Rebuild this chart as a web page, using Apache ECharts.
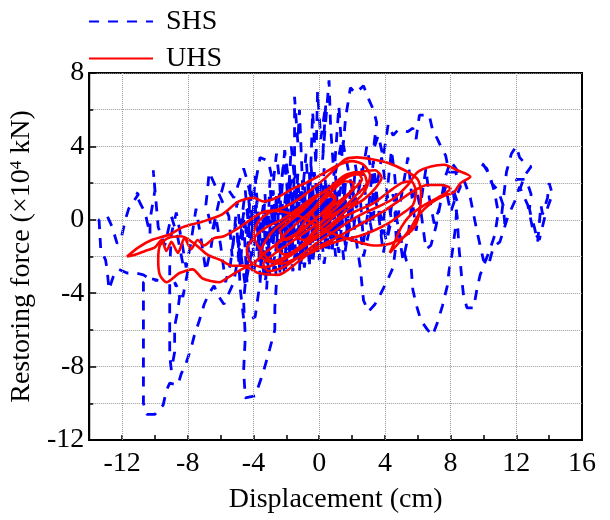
<!DOCTYPE html>
<html>
<head>
<meta charset="utf-8">
<script src="https://cdn.jsdelivr.net/npm/echarts@6/dist/echarts.min.js"></script>
<style>
  html, body { margin: 0; padding: 0; background: #fff; }
  #chart { width: 610px; height: 520px; }
</style>
</head>
<body>
<div id="chart"></div>
<script>
// Hysteresis: displacement (cm) vs restoring force (x10^4 kN)
const xTickLabels = [-12, -8, -4, 0, 4, 8, 12, 16];
const xGridValues = [-12, -8, -4, 0, 4, 8, 12];

// SHS response, in time order: [displacement, force]
const shsStart = [
  [0.0,0.4],[0.2,1.6],[0.1,-0.4],[0.4,1.0],[0.3,-1.0],[0.6,1.8],[0.5,-0.2],[0.8,1.2],[0.7,-1.1],[1.0,0.6],
  [0.9,2.2],[0.6,-0.3],[0.4,1.5],[0.1,-1.3],[-0.1,0.8],[-0.3,-1.7],[-0.5,1.0],[-0.7,-0.5],[-0.9,1.9],[-1.0,-1.1],
  [-1.2,0.6],[-1.3,2.5],[-1.5,-0.4],[-1.7,1.4],[-1.6,-1.9],[-1.9,0.3],[-2.1,-1.5],[-2.0,1.7],[-2.3,-0.7],[-2.4,1.2]
];
const shsUpperSweep = [
  [-2.1,3.7],[-1.9,0.9],[-1.7,4.0],[-1.5,2.2],[-1.5,6.7],[-1.3,4.2],[-1.2,6.0],[-1.0,1.6],[-0.8,3.6],[-0.6,0.4],
  [-0.4,5.9],[-0.2,3.0],[-0.1,7.0],[0.1,4.4],[0.4,6.3],[0.2,3.2],[0.6,7.6],[0.7,5.0],[0.9,2.4],[1.2,6.2],
  [1.4,3.4],[1.6,5.5],[1.9,7.2],[2.2,6.9],[2.7,7.3],[3.0,6.6],[3.3,6.0],[3.5,5.3],[3.3,3.8],[3.6,4.6],
  [3.9,3.4],[4.2,5.2],[4.5,4.6],[4.8,4.9],[5.4,4.8],[5.7,5.0],[5.9,4.4],[6.1,5.7],[6.7,5.7],[6.9,4.9],
  [7.2,4.4],[7.4,4.0],[7.7,3.5],[7.9,2.6],[8.3,2.6],[8.6,1.8],[8.3,1.2],[8.0,0.4],[7.7,1.8],[7.3,0.6],
  [7.0,-0.2],[6.7,1.2],[6.5,2.8],[6.2,1.0],[5.9,-0.6],[5.6,1.6],[5.4,3.4],[5.1,1.8],[4.8,0.2],[4.6,2.4],
  [4.4,3.8],[4.1,1.2],[3.8,-0.8],[3.5,1.4],[3.3,3.2],[3.0,0.6],[2.7,-1.2],[2.5,1.2],[2.2,3.0],[2.0,0.2],
  [1.7,-1.0],[1.5,1.8],[1.2,-0.6],[1.0,2.4],[0.8,-1.4]
];
const shsLeftSweep = [
  [0.5,0.8],[0.3,2.8],[0.1,-0.6],[-0.1,-2.0],[-0.3,0.6],[-0.5,3.0],[-0.7,-0.8],[-0.9,1.6],[-1.1,-2.4],[-1.3,0.2],
  [-1.5,2.8],[-1.7,-1.4],[-1.9,0.8],[-2.1,-2.6],[-2.3,-0.2],[-2.4,2.0],[-2.6,-1.8],[-2.9,0.6],[-3.1,-1.6],[-3.3,1.4],
  [-3.5,-2.2],[-3.7,0.2],[-3.9,2.4],[-4.1,-0.8],[-4.3,1.2],[-4.4,-2.6],[-4.6,-4.4],[-4.5,-6.4],[-4.6,-8.2],[-4.5,-9.7],
  [-3.9,-9.6],[-3.4,-8.3],[-3.0,-7.0],[-2.7,-6.0],[-2.7,-4.8],[-2.6,-3.4],[-2.7,-2.0],[-3.0,-3.0],[-3.3,-0.6],[-3.6,-2.0],
  [-3.9,0.8],[-4.2,-1.4],[-4.5,1.6],[-4.8,-0.6],[-5.0,1.0],[-5.3,-2.0],[-5.5,0.2],[-6.0,1.2],[-6.4,2.0],[-6.7,2.6],
  [-6.8,1.6],[-6.9,0.8],[-6.5,-0.6],[-6.1,1.0],[-5.8,2.0],[-5.2,1.2],[-4.6,2.8],[-4.4,2.2],[-4.1,1.0],[-3.8,2.4],
  [-3.6,3.4],[-3.1,3.2],[-2.8,2.0],[-2.6,3.6],[-2.3,1.2],[-2.1,3.8],[-1.9,2.4]
];
const shsWideSweep = [
  [-2.0,0.4],[-1.7,2.2],[-1.4,-0.8],[-1.1,1.8],[-0.8,-1.6],[-0.5,1.0],[-0.2,-0.4],[0.1,2.0],[0.4,-1.0],[0.7,1.2],
  [1.0,-2.0],[1.3,0.4],[1.6,-1.4],[1.9,1.6],[2.2,-0.8],[2.5,-2.6],[2.7,-4.4],[3.0,-5.0],[3.4,-4.6],[3.7,-4.1],
  [4.1,-3.4],[4.5,-2.6],[4.7,-1.2],[4.6,0.6],[4.9,-0.8],[5.3,-2.2],[5.6,-2.6],[5.7,-3.8],[5.9,-4.6],[6.2,-5.5],
  [6.6,-6.0],[6.9,-6.3],[7.2,-5.6],[7.5,-4.7],[7.8,-3.6],[7.9,-2.8],[8.1,-1.8],[8.3,-0.4],[8.4,1.0],[8.1,1.8],
  [8.4,0.2],[8.5,-1.4],[8.6,-2.4],[8.7,-3.4],[8.8,-4.2],[9.0,-4.8],[9.4,-4.8],[9.6,-3.8],[9.8,-3.0],[10.1,-2.3],
  [10.4,-1.6],[10.7,-0.8],[10.9,0.4],[10.7,1.4],[10.4,2.4],[10.0,3.0],[9.7,3.2],[10.2,2.8],[10.5,2.0],[10.9,1.6],
  [11.2,0.8],[11.3,-0.2],[11.1,0.2],[11.4,2.6],[11.7,3.6],[12.0,4.0],[12.2,3.4],[12.6,3.0],[12.9,2.9],[12.5,2.4],
  [12.2,1.6],[12.0,2.2],[12.6,2.2],[12.9,1.4],[12.8,0.6],[12.9,0.2],[13.1,-0.4],[13.3,-1.2],[13.4,-0.2],[13.5,0.8],
  [13.6,0.3],[13.9,1.2],[14.0,2.0],[14.2,1.4],[13.8,0.4],[13.4,-1.1],[13.0,-0.5],[12.7,0.8],[12.2,1.8],[11.9,1.0],
  [11.5,0.2],[11.0,-1.2],[10.6,-1.5],[10.3,-2.5],[10.0,-2.2],[9.6,-0.6],[9.2,1.2],[8.8,2.2],[8.4,2.7],[8.0,3.2],
  [7.7,2.4],[7.4,1.0],[7.1,-0.4],[6.8,-1.4],[6.5,-1.6],[6.2,0.4],[5.9,1.8],[5.6,0.6],[5.4,-1.0],[5.1,-2.2],
  [4.8,-0.4],[4.5,1.4],[4.2,-0.6],[3.9,-1.8],[3.6,0.4],[3.3,1.6],[3.0,-0.8],[2.7,-2.0],[2.4,0.2],[2.1,1.8],
  [1.8,-0.4],[1.5,-2.2],[1.2,0.4],[0.9,2.0],[0.6,-0.6],[0.3,-2.4],[0.0,0.6],[-0.3,2.6],[-0.6,-0.2],[-0.9,-2.6],
  [-1.2,0.0],[-1.5,1.6],[-1.8,-1.2],[-2.1,-3.0],[-2.4,-0.8],[-2.7,0.8],[-3.0,-1.8],[-3.3,-3.4],[-3.6,-1.4],[-3.9,0.2],
  [-4.2,-2.2],[-4.5,-3.6],[-4.8,-1.6],[-5.1,-0.2],[-5.4,-2.4],[-5.7,-3.4],[-6.0,-1.4],[-6.3,0.2],[-6.6,-1.6],[-6.9,-2.8],
  [-7.2,-1.0],[-7.5,0.6],[-7.8,-1.2],[-8.1,-2.6],[-8.4,-1.0],[-8.7,0.4],[-9.0,-0.8],[-9.1,-2.6],[-9.1,-4.2],[-9.1,-6.2],
  [-9.1,-7.4],[-9.0,-8.2],[-8.8,-7.2],[-8.8,-5.8],[-8.6,-4.9],[-8.5,-4.2],[-8.8,-3.4],[-8.3,-4.2],[-8.0,-2.8],[-8.3,-2.4],
  [-8.6,-1.0],[-9.0,0.2],[-9.4,-1.4],[-9.8,-0.4],[-10.1,2.7],[-10.0,1.6],[-10.3,0.0],[-10.3,-0.8],[-10.6,0.4],[-10.9,0.9],
  [-11.2,1.5],[-11.0,1.4],[-11.6,0.6],[-11.8,0.0],[-12.0,-0.8],[-12.3,-1.3],[-12.6,-0.4],[-12.9,0.2],[-13.4,0.0],[-13.3,-1.6],
  [-13.0,-2.2],[-12.9,-2.8],[-12.8,-3.8],[-12.5,-3.0],[-12.2,-2.7],[-11.7,-2.9],[-11.2,-2.9],[-10.7,-3.0],[-10.2,-3.3],[-9.8,-3.3],
  [-10.3,-3.2],[-10.7,-3.4],[-10.7,-4.8],[-10.7,-6.6],[-10.7,-8.4],[-10.7,-10.0],[-10.5,-10.6],[-10.0,-10.6],[-9.5,-10.1],[-9.3,-9.3],
  [-9.1,-8.9],[-8.6,-9.0],[-8.4,-8.4],[-8.1,-7.8],[-7.8,-7.0],[-7.6,-6.3],[-7.3,-5.5],[-7.0,-4.6],[-6.7,-4.0],[-6.4,-3.6],
  [-6.1,-4.2],[-5.8,-4.6],[-5.5,-4.0],[-5.2,-3.4]
];
const shsReturn = [
  [-4.9,-1.8],[-4.6,0.4],[-4.3,-1.6],[-4.0,-3.0],[-3.7,-1.0],[-3.4,0.8],[-3.1,-1.4],[-2.8,-2.8],[-2.5,-0.6],[-2.2,1.0],
  [-1.9,-1.0],[-1.6,-2.8],[-1.3,-0.6],[-1.0,1.2],[-0.7,-0.8],[-0.4,-2.4],[-0.1,0.2],[0.2,1.8],[0.5,0.0],[0.8,-1.6],
  [1.1,0.6],[1.4,2.2],[1.7,0.4],[2.0,-1.2],[2.3,1.0],[2.6,2.8],[2.9,0.8],[3.2,-0.6],[3.5,1.8],[3.8,3.4],
  [4.1,1.6],[4.4,0.0],[4.1,-1.2],[3.7,0.4],[3.3,2.0],[2.9,4.0],[2.6,2.4],[2.2,0.8],[1.8,2.6],[1.4,4.4],
  [1.0,2.6],[0.6,0.6]
];
const shsEnd = [
  [0.4,-1.8],[0.2,1.4],[0.0,-2.2],[-0.2,2.0],[-0.4,-1.4],[-0.6,2.6],[-0.8,-2.0],[-1.0,1.0],[-1.2,-2.8],[-1.4,1.8],
  [-1.6,-1.0],[-1.8,2.4],[-2.0,-2.2],[-2.2,0.6],[-2.4,-3.0],[-2.6,1.4],[-2.8,-1.4],[-3.0,2.2],[-3.2,-2.6],[-3.4,0.4],
  [-3.6,-3.2],[-3.8,1.0],[-4.0,-2.0],[-4.2,2.0],[-4.4,-3.4],[-4.6,0.0],[-4.8,-2.6],[-5.0,-0.6],[-4.8,-3.8],[-4.6,-5.4],
  [-4.2,-5.4],[-3.9,-5.3],[-3.6,-3.4],[-3.4,-1.0],[-3.2,-3.8],[-3.0,-0.4],[-2.8,1.6],[-2.6,-0.8],[-2.4,-2.2],[-2.2,0.2],
  [-2.0,1.2],[-1.8,-1.8],[-1.6,0.4],[-1.4,-2.2],[-1.2,1.4],[-1.0,-1.6],[-0.8,0.8],[-0.6,-2.6],[-0.4,1.6],[-0.2,-1.2],
  [0.0,2.2],[0.2,-0.8],[0.4,1.2],[0.6,-1.6],[0.8,0.4],[1.0,-1.0],[1.2,1.6],[1.4,-0.4],[1.6,2.0],[1.4,0.0],
  [1.2,-1.8],[0.9,0.4],[0.6,2.0],[0.3,-0.6],[0.0,0.4]
];

// UHS response, in time order: [displacement, force]
const uhsCore = [
  [0.2,0.1],[0.7,0.6],[1.0,1.1],[0.6,1.3],[0.0,0.8],[-0.6,0.2],[-1.1,-0.4],[-1.4,-0.9],[-0.9,-1.1],[-0.2,-0.5],
  [0.5,0.2],[1.3,0.9],[1.9,1.5],[2.1,2.0],[1.6,2.1],[0.8,1.6],[0.1,1.0],[-0.7,0.3],[-1.5,-0.3],[-2.2,-0.9],
  [-2.6,-1.5],[-2.1,-1.9],[-1.2,-1.5],[-0.4,-0.8],[0.4,-0.2],[1.3,0.5],[2.2,1.3],[2.9,2.0],[2.7,2.5],[1.9,2.4],
  [1.0,1.9],[0.1,1.4],[-0.8,0.8],[-1.8,0.1],[-2.7,-0.5],[-3.3,-1.2],[-3.6,-1.9],[-3.0,-2.3],[-2.0,-2.0],[-1.1,-1.4],
  [-0.1,-0.8],[0.9,-0.1],[1.8,0.6],[2.7,1.1],[3.4,1.7],[3.8,2.3],[3.4,2.7],[2.5,2.6],[1.5,2.3],[0.6,1.7],
  [-0.4,1.2],[-1.3,0.6],[-2.3,0.0],[-3.2,-0.4],[-3.9,-0.9],[-4.4,-1.6],[-4.2,-2.3],[-3.4,-2.6],[-2.4,-2.3],[-1.5,-1.8],
  [-0.5,-1.2],[0.5,-0.6],[1.4,0.1],[2.3,0.5],[3.3,0.9],[4.2,1.5],[5.0,2.0],[5.6,2.1],[5.9,1.5],[5.7,0.8],
  [5.0,0.3],[4.2,-0.2],[3.3,-0.6],[2.4,-0.9],[1.4,-1.1],[0.4,-1.4],[-0.5,-1.8],[-1.4,-2.1],[-2.3,-2.4],[-3.0,-2.2],
  [-3.6,-1.6],[-4.0,-0.8],[-3.7,-0.1],[-3.0,0.4],[-2.1,0.7],[-1.3,1.1],[-0.4,1.7],[0.4,2.3],[1.1,2.9],[1.6,3.3],
  [2.3,3.4],[3.2,3.3],[4.2,3.1],[5.2,2.7],[6.0,2.2],[6.2,1.5],[6.1,0.4],[5.8,-0.4],[5.2,-0.9],[4.3,-1.3],
  [3.3,-1.4],[2.3,-1.2],[1.3,-0.9],[0.4,-0.6],[-0.4,-0.2],[-1.2,0.2],[-2.0,0.4],[-2.8,0.5],[-3.5,0.4]
];
const uhsLeftMiddle = [
  [-4.2,0.0],[-5.0,-0.5],[-5.8,-0.9],[-6.4,-1.0],[-7.0,-1.4],[-7.4,-1.1],[-7.8,-1.6],[-8.2,-1.0],[-8.6,-1.8],[-9.0,-1.2],
  [-9.3,-1.7],[-9.6,-1.1],[-10.0,-1.5],[-10.6,-1.7],[-11.2,-1.9],[-11.7,-2.0]
];
const uhsUpperReturn = [
  [-11.0,-1.5],[-10.2,-1.1],[-9.1,-0.8],[-8.3,-0.4],[-7.1,-0.1],[-5.9,0.3],[-4.9,1.0],[-4.0,1.2],[-3.4,1.0],[-2.6,1.2],
  [-1.6,1.7],[-0.6,2.1],[0.4,2.6],[1.2,3.0],[2.0,3.2],[2.7,3.0],[3.1,2.4],[2.8,1.6],[2.2,1.0],[1.4,0.6],
  [0.5,0.1],[-0.4,-0.4],[-1.2,-0.9],[-2.0,-1.4],[-2.8,-1.9],[-3.4,-2.4],[-3.1,-2.8],[-2.2,-2.6],[-1.2,-2.0],[-0.2,-1.3],
  [0.8,-0.7],[1.8,-0.1],[2.8,0.4],[3.8,0.8],[4.6,1.2]
];
const uhsWideLoop = [
  [5.4,1.9],[6.0,2.6],[6.8,2.9],[7.6,3.0],[8.4,2.7],[9.2,2.35],[8.6,2.0],[8.2,1.5],[7.6,1.3],[6.8,0.9],
  [6.0,0.2],[5.6,-0.4],[5.0,-1.1],[4.3,-1.8],[4.6,-1.2],[5.0,-0.4],[5.6,0.3],[6.4,0.8],[7.0,1.1],[7.6,1.4],
  [8.0,1.7],[7.4,1.9],[6.6,1.9],[5.8,1.6],[4.8,1.0],[3.8,0.4],[2.8,-0.1],[1.8,-0.6],[0.8,-1.1],[-0.2,-1.5],
  [-0.6,-1.8],[-1.3,-2.3],[-2.5,-3.0],[-3.7,-2.9],[-4.4,-2.6],[-5.3,-3.0],[-6.1,-3.4],[-7.1,-3.2],[-7.7,-2.7],[-8.5,-2.9],
  [-9.3,-3.4],[-9.7,-3.0],[-9.8,-2.2],[-9.7,-1.4],[-9.2,-1.0],[-8.4,-0.9]
];
const uhsEnd = [
  [-7.6,-1.3],[-6.8,-1.9],[-6.0,-2.2],[-5.3,-2.5],[-4.3,-2.5],[-3.3,-1.8],[-2.4,-1.2],[-1.5,-0.8],[-0.6,-0.2],[0.3,0.4],
  [1.2,1.0],[2.0,1.6],[2.6,2.2],[2.3,2.6],[1.5,2.4],[0.7,1.8],[-0.2,1.2],[-1.0,0.5],[-1.8,-0.1],[-2.4,-0.6],
  [-2.0,-1.1],[-1.2,-0.7],[-0.4,-0.1],[0.4,0.6],[1.0,1.2],[0.6,1.5],[0.0,1.0],[-0.4,0.4],[0.0,-0.2],[0.5,0.3]
];

const shsPath = [].concat(shsStart, shsUpperSweep, shsLeftSweep, shsWideSweep, shsReturn, shsEnd);
const uhsPath = [].concat(uhsCore, uhsLeftMiddle, uhsUpperReturn, uhsWideLoop, uhsEnd);

const FONT = 'Liberation Serif';
const gridLine = { type: 'dotted', color: '#9a9a9a', width: 1 };

const chart = echarts.init(document.getElementById('chart'), null, { renderer: 'canvas' });
chart.setOption({
  animation: false,
  backgroundColor: '#fff',
  textStyle: { fontFamily: FONT, color: '#000' },
  legend: {
    data: ['SHS', 'UHS'],
    orient: 'vertical',
    left: 83,
    top: 2,
    itemWidth: 64,
    itemHeight: 14,
    itemGap: 8,
    itemStyle: { opacity: 0 },
    textStyle: { fontFamily: FONT, fontSize: 28, color: '#000', lineHeight: 29, padding: [0, 0, 0, 8] }
  },
  grid: {
    left: 87, right: 28, top: 73, bottom: 80,
    show: true, borderColor: '#000', borderWidth: 2, backgroundColor: 'transparent'
  },
  xAxis: {
    type: 'value', min: -14, max: 16, interval: 2,
    name: 'Displacement (cm)', nameLocation: 'middle', nameGap: 46,
    nameTextStyle: { fontFamily: FONT, fontSize: 28, color: '#000' },
    axisLine: { show: true, onZero: false, lineStyle: { color: '#000', width: 2 } },
    axisTick: { show: true, inside: true, length: 5, lineStyle: { color: '#000', width: 1.5 } },
    axisLabel: {
      fontFamily: FONT, fontSize: 28, color: '#000', margin: 10,
      formatter: v => (xTickLabels.indexOf(v) >= 0 ? String(v) : '')
    },
    splitLine: { show: false }
  },
  yAxis: {
    type: 'value', min: -12, max: 8, interval: 4,
    name: '{a|Restoring force (×10}{s|4}{a| kN)}', nameLocation: 'middle', nameGap: 42,
    nameTextStyle: {
      fontFamily: FONT, fontSize: 28, color: '#000',
      rich: {
        a: { fontFamily: FONT, fontSize: 28, color: '#000' },
        s: { fontFamily: FONT, fontSize: 17, color: '#000', verticalAlign: 'top', padding: [0, 0, 10, 0] }
      }
    },
    axisLine: { show: true, onZero: false, lineStyle: { color: '#000', width: 2 } },
    axisTick: { show: true, inside: true, length: 7, lineStyle: { color: '#000', width: 1.5 } },
    minorTick: { show: true, splitNumber: 2, length: 4, lineStyle: { color: '#000', width: 1.5 } },
    axisLabel: { fontFamily: FONT, fontSize: 28, color: '#000', margin: 5 },
    splitLine: { show: true, lineStyle: gridLine },
    minorSplitLine: { show: true, lineStyle: gridLine }
  },
  series: [
    {
      name: 'grid', type: 'line', data: [], silent: true, z: 1,
      markLine: {
        silent: true, symbol: 'none', label: { show: false },
        lineStyle: gridLine,
        data: xGridValues.map(v => ({ xAxis: v }))
      }
    },
    {
      name: 'SHS', type: 'line', data: shsPath, symbol: 'none', z: 3,
      lineStyle: { color: '#0000ff', width: 2.8, type: [10, 9] },
      itemStyle: { color: '#0000ff' }
    },
    {
      name: 'UHS', type: 'line', data: uhsPath, symbol: 'none', smooth: 0.25, z: 4,
      lineStyle: { color: '#ff0000', width: 2.6 },
      itemStyle: { color: '#ff0000' }
    }
  ]
});
</script>
</body>
</html>
